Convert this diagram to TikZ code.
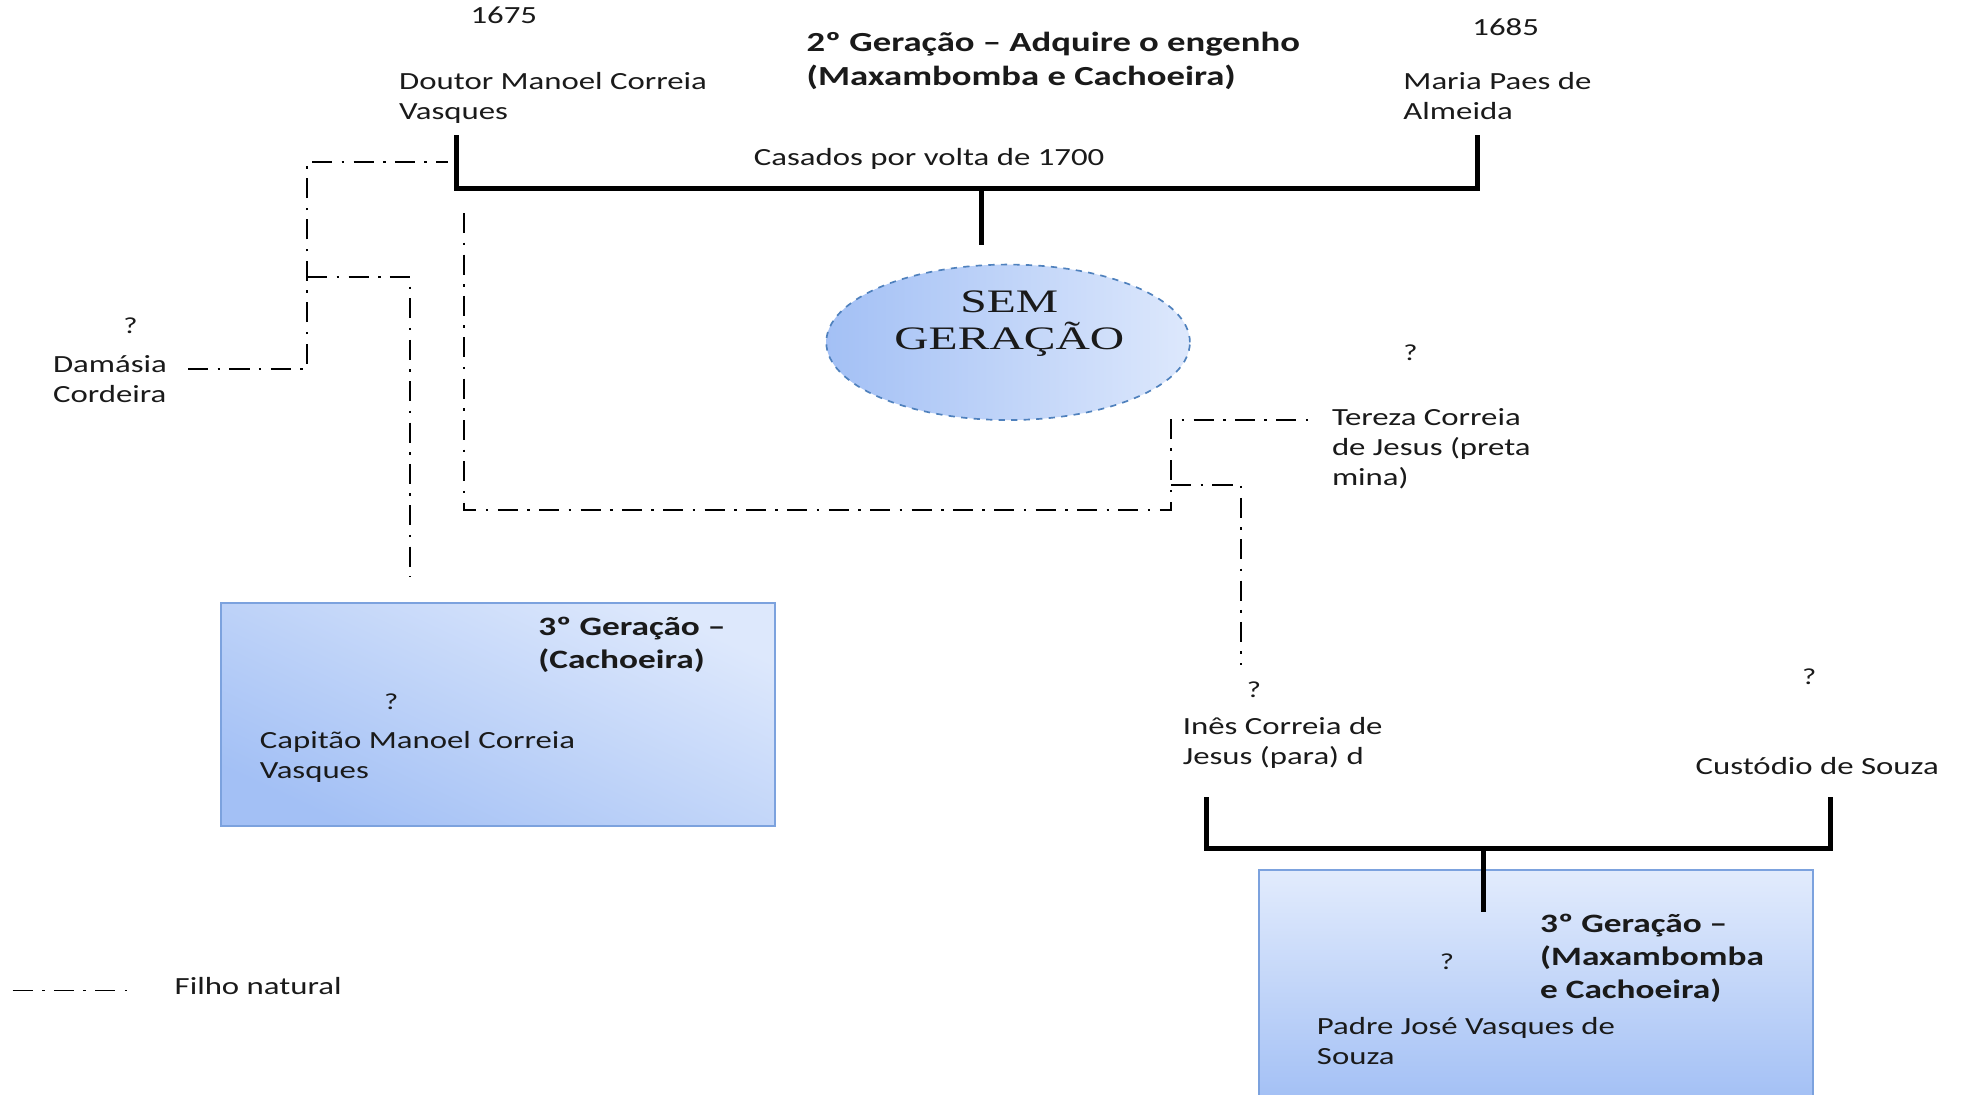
\documentclass[tikz,border=0pt]{standalone}
\usepackage{fontspec}
\setmainfont{Carlito}[FakeStretch=1.33]
\newfontfamily\capsfont{Liberation Serif}[FakeStretch=1.45]
\usetikzlibrary{shapes.geometric}
\definecolor{lightb}{HTML}{DDE8FC}
\definecolor{darkb}{HTML}{A3C0F5}
\definecolor{edgeb}{HTML}{7CA2DE}
\definecolor{elledge}{HTML}{4F81BD}
\definecolor{inkc}{HTML}{1A1A1A}
\tikzset{
  txt/.style={anchor=base west, inner sep=0, align=left, text=inkc, font=\fontsize{11.8}{14.4}\selectfont},
  ttl/.style={txt, font=\fontsize{13.2}{16.2}\selectfont\bfseries},
  bttl/.style={txt, font=\fontsize{12.7}{15.6}\selectfont\bfseries},
  qm/.style={anchor=center, inner sep=0, text=inkc, font=\fontsize{11}{13}\selectfont},
  famline/.style={line width=2.4pt, line cap=butt},
  natline/.style={line width=0.9pt, dash pattern=on 9.6pt off 4.5pt on 1.2pt off 4.5pt},
  genbox/.style={draw=edgeb, line width=0.8pt, rectangle, inner sep=0, minimum width=265.2pt},
}
\begin{document}
\begin{tikzpicture}[x=0.6pt, y=-0.6pt]
\clip (0,0) rectangle (1568,873);
\fill[white] (0,0) rectangle (1568,873);

% boxes and ellipse
\node[genbox, minimum height=106.8pt, shading=axis, top color=lightb, bottom color=darkb, shading angle=-25] (box1) at (397,570) {};
\node[genbox, minimum height=110pt, top color=lightb!85!white, bottom color=darkb] (box2) at (1225,785.7) {};
\node[ellipse, draw=elledge, dashed, line width=0.8pt, inner sep=0, minimum width=174pt, minimum height=74.4pt, left color=darkb, right color=lightb] (sem) at (804,273) {};
\node[inner sep=0, align=center, text=inkc, font=\capsfont\fontsize{15.7}{18}\selectfont] (semtxt) at (805,258) {SEM\\GERAÇÃO};

% texts (base west = baseline of the last line)
\node[txt] (y1675) at (375,19) {1675};
\node[txt] (doutor) at (318,95) {Doutor Manoel Correia\\Vasques};
\node[ttl] (title) at (643,68) {2º Geração – Adquire o engenho\\(Maxambomba e Cachoeira)};
\node[txt] (y1685) at (1174,28) {1685};
\node[txt] (maria) at (1119,95) {Maria Paes de\\Almeida};
\node[txt] (casados) at (601,132) {Casados por volta de 1700};
\node[qm] (qdam) at (104,260) {?};
\node[txt] (damasia) at (42,321) {Damásia\\Cordeira};
\node[qm] (qter) at (1125,281) {?};
\node[txt] (tereza) at (1062,387) {Tereza Correia\\de Jesus (preta\\mina)};
\node[bttl] (t3a) at (429,533) {3º Geração –\\(Cachoeira)};
\node[qm] (qcap) at (312,560) {?};
\node[txt] (capitao) at (207,621) {Capitão Manoel Correia\\Vasques};
\node[qm] (qines) at (1000,550) {?};
\node[txt] (ines) at (943,610) {Inês Correia de\\Jesus (para) d};
\node[qm] (qcus) at (1443,540) {?};
\node[txt] (custodio) at (1352,618) {Custódio de Souza};
\node[bttl] (t3b) at (1228,796) {3º Geração –\\(Maxambomba\\e Cachoeira)};
\node[qm] (qpad) at (1154,767) {?};
\node[txt] (padre) at (1050,849) {Padre José Vasques de\\Souza};
\node[txt] (legend) at (139,793) {Filho natural};

% marriage bracket 1
\coordinate (mA) at (364,108);
\coordinate (mB) at (1178,108);
\coordinate (mJ) at (783,150);
\coordinate (mS) at (783,195);
\draw[famline] (mA) |- (mJ) -| (mB);
\draw[famline] (mJ) -- (mS);

% marriage bracket 2
\coordinate (pA) at (962,636);
\coordinate (pB) at (1460,636);
\coordinate (pJ) at (1183,677);
\coordinate (pS) at (1183,727);
\draw[famline] (pA) |- (pJ) -| (pB);
\draw[famline] (pJ) -- (pS);

% natural children lines
\coordinate (dA) at (150,294);
\coordinate (dK) at (245,129);
\coordinate (dB) at (357,129);
\draw[natline] (dA) -| (dK) -- (dB);
\coordinate (cA) at (245,221);
\coordinate (cB) at (327,460);
\draw[natline] (cA) -| (cB);
\coordinate (tA) at (370,170);
\coordinate (tK) at (934,407);
\coordinate (tB) at (1047,335);
\draw[natline] (tA) |- (tK) |- (tB);
\coordinate (iA) at (934,387);
\coordinate (iB) at (990,530);
\draw[natline] (iA) -| (iB);

% legend
\coordinate (lgA) at (10,790);
\coordinate (lgB) at (107,790);
\draw[natline] (lgA) -- (lgB);
\end{tikzpicture}
\end{document}
